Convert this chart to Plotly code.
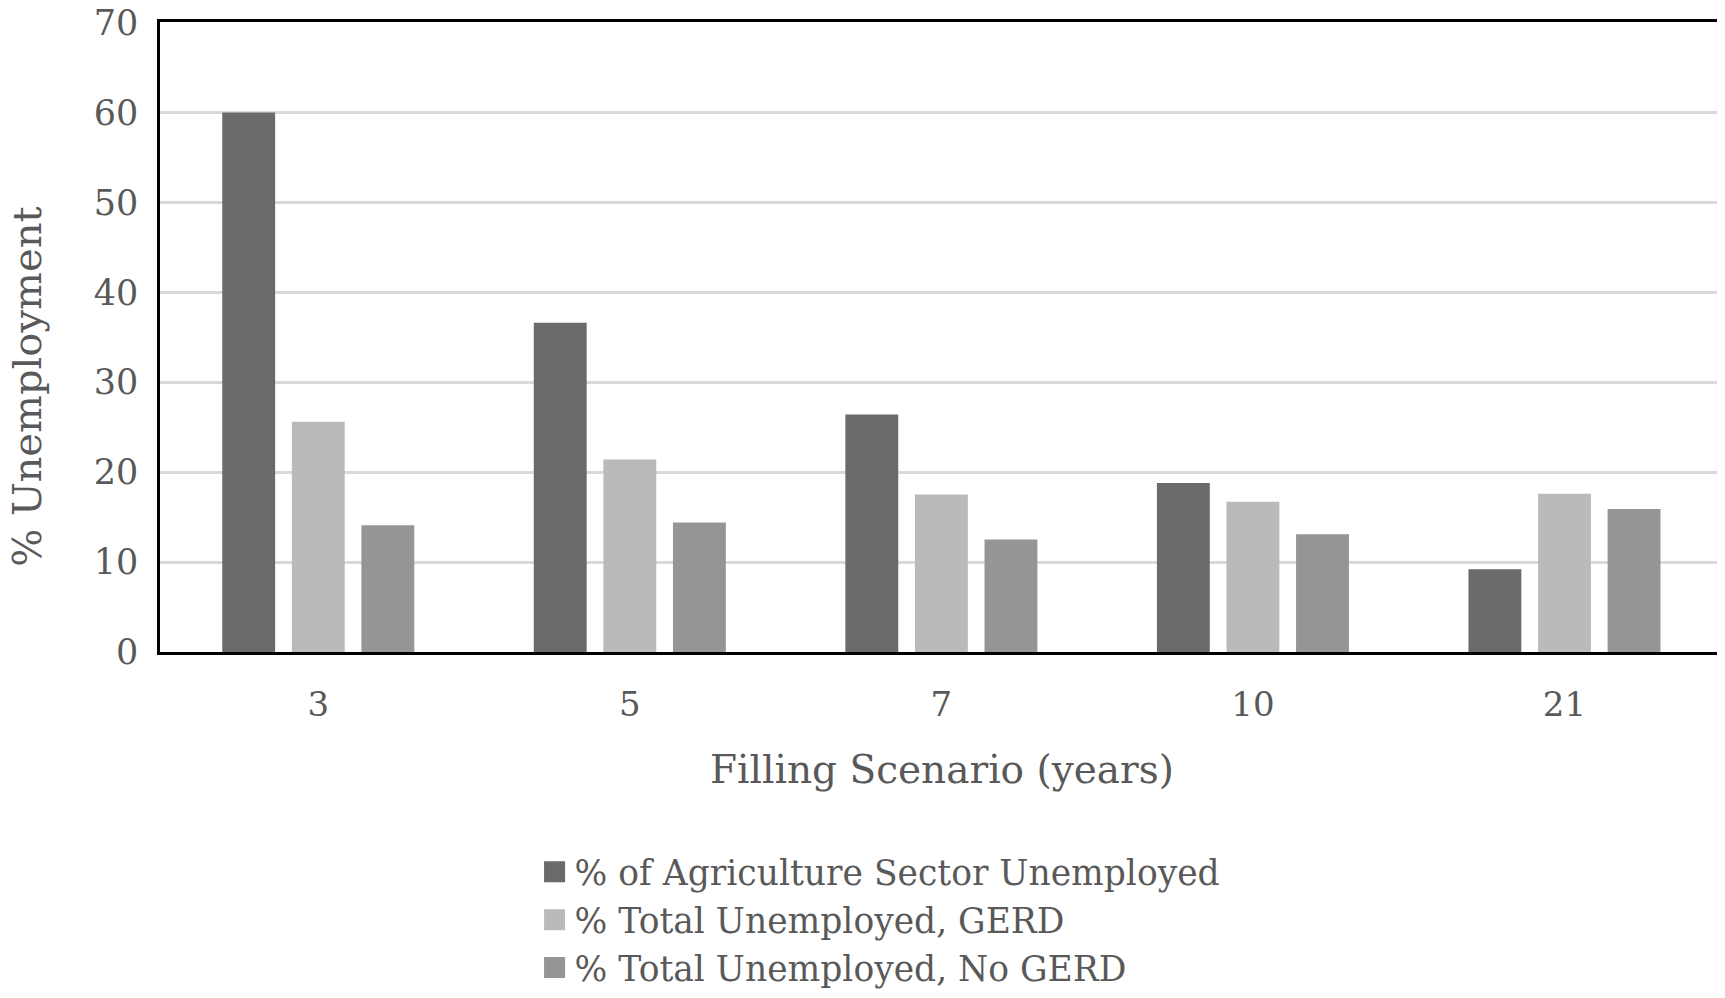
import plotly.graph_objects as go

categories = ["3", "5", "7", "10", "21"]
agri_unemployed = [60.0, 36.6, 26.4, 18.8, 9.2]
total_gerd = [25.6, 21.4, 17.5, 16.7, 17.6]
total_no_gerd = [14.1, 14.4, 12.5, 13.1, 15.9]
series_names = ["% of Agriculture Sector Unemployed",
                "% Total Unemployed, GERD",
                "% Total Unemployed, No GERD"]
colors = ["#6a6a6a", "#bababa", "#959595"]
y_ticks = [0, 10, 20, 30, 40, 50, 60, 70]

FONT = "DejaVu Serif"
TXT = "#595959"

fig = go.Figure()
for name, vals, c in zip(series_names, [agri_unemployed, total_gerd, total_no_gerd], colors):
    fig.add_trace(go.Bar(x=categories, y=vals, name=name, marker_color=c,
                         marker_line_width=0, showlegend=False))
# legend entries with larger square swatches
for name, c in zip(series_names, colors):
    fig.add_trace(go.Scatter(x=[None], y=[None], mode="markers", name=name,
                             marker=dict(symbol="square", size=16, color=c,
                                         line=dict(color=c, width=5))))

fig.update_layout(
    width=1725, height=998,
    margin=dict(l=152, r=9, t=14, b=343),
    paper_bgcolor="white", plot_bgcolor="white",
    barmode="group", bargap=0.33, bargroupgap=0.24,
    font=dict(family=FONT, color=TXT, size=34),
    showlegend=True,
    legend=dict(x=0.2395, xanchor="left", y=-0.303, yanchor="top",
                font=dict(size=34.5, family=FONT, color=TXT),
                itemwidth=30, tracegroupgap=0, bgcolor="rgba(0,0,0,0)"),
)
fig.update_xaxes(
    type="category", range=[-0.508, 4.512],
    showline=True, linecolor="black", linewidth=3, mirror=True,
    ticks="", tickfont=dict(size=34, family=FONT, color=TXT), ticklabelstandoff=20,
    title=dict(text="Filling Scenario (years)", font=dict(size=39, family=FONT, color=TXT), standoff=33),
    automargin=False,
)
fig.update_yaxes(
    range=[0, 70.05], tickvals=y_ticks, showgrid=True, gridcolor="#d9d9d9", gridwidth=3,
    showline=True, linecolor="black", linewidth=2.5, mirror=True,
    tickfont=dict(size=35, family=FONT, color=TXT), ticklabelstandoff=12,
    ticklabeloverflow="allow", zeroline=False, automargin=False,
)
fig.add_annotation(text="% Unemployment", xref="paper", yref="paper",
                   x=-0.085, y=0.421, xanchor="center", yanchor="middle", textangle=-90,
                   showarrow=False, font=dict(size=40, family=FONT, color=TXT))

fig.write_html("out.html")
